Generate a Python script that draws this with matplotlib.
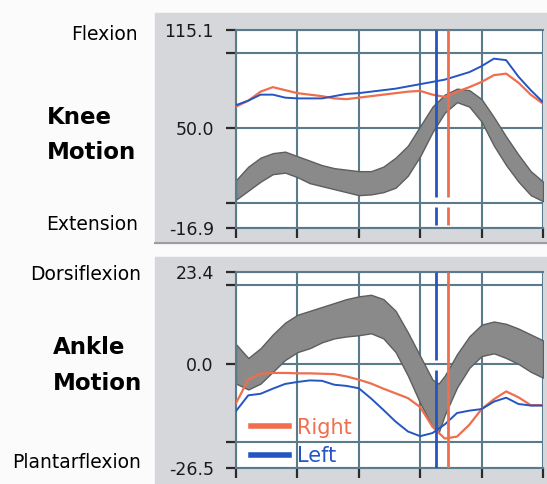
import matplotlib
matplotlib.use("Agg")
import matplotlib.pyplot as plt
from matplotlib.patches import Rectangle
from matplotlib.lines import Line2D

plt.rcParams['axes.unicode_minus'] = False

# knee motion, degrees over % gait cycle
knee_pct = [0, 4, 8, 12, 16, 20, 24, 28, 32, 36, 40, 44, 48, 52, 56, 60, 64, 68, 72, 76, 80, 84, 88, 92, 96, 100]
knee_norm_hi = [15, 24, 30, 33, 34, 31, 28, 25, 23, 22, 21, 21, 24, 30, 38, 51, 64, 72, 76, 75, 69, 57, 44, 32, 21, 14]
knee_norm_lo = [2, 8, 14, 19, 20, 17, 13, 11, 9, 7, 5, 5.5, 7, 10, 18, 31, 47, 60, 67, 64, 54, 38, 25, 14, 5, 1]
knee_right = [64, 68, 74, 77, 75, 73, 72, 71, 69.5, 69, 70, 71, 72, 73, 74, 74.5, 72, 70.5, 74, 77, 80.5, 85, 86, 80, 72, 66]
knee_left = [65, 68, 72, 72, 70, 69.5, 69.5, 69.5, 71, 72.5, 73, 74, 75, 76, 77.5, 79, 80.5, 82, 84.5, 87, 91, 96, 95, 84, 75, 67]

# ankle motion
ankle_norm_pct = [0, 4, 8, 12, 16, 20, 24, 28, 32, 36, 40, 44, 48, 52, 56, 60, 64, 66, 68, 72, 76, 80, 84, 88, 92, 96, 100]
ankle_norm_hi = [5, 1.5, 4, 7.5, 10.5, 12.5, 13.5, 14.5, 15.5, 16.5, 17.2, 17.6, 16.5, 13.5, 8, 2, -4, -5, -3, 2.5, 7, 10, 10.8, 10.2, 9, 7.5, 6]
ankle_norm_lo = [-5, -6.5, -5, -2, 1, 3, 4, 5.5, 6.5, 7, 7.3, 7.8, 6.5, 3, -3, -10, -16, -17.5, -13, -6, -1, 2, 2.7, 1.5, 0, -2, -3.5]
ankle_pct = [0, 4, 8, 12, 16, 20, 24, 28, 32, 36, 40, 44, 48, 52, 56, 60, 64, 68, 72, 76, 80, 84, 88, 92, 96, 100]
ankle_right = [-10, -4, -2.5, -2.3, -2.3, -2.4, -2.4, -2.5, -2.6, -3.2, -4, -5, -6.3, -7.5, -8.7, -11, -16, -19, -18.5, -15.5, -11.5, -9, -7, -8.5, -10.5, -10.5]
ankle_left = [-12, -8, -7.6, -6.3, -5.1, -4.6, -4.2, -4.3, -5.3, -5.6, -6.2, -8.8, -11.7, -14.7, -17.2, -18.4, -17.6, -15.4, -12.5, -11.9, -11.5, -9.6, -8.6, -10.2, -10.6, -10.6]

# toe-off events (% gait cycle)
toe_off_left = 65.2
toe_off_right = 68.9

knee_ticks = [-16.9, 0, 50, 100, 115.1]
knee_ticklabels = ['-16.9', '', '50.0', '', '115.1']
ankle_ticks = [-26.5, -20, 0, 20, 23.4]
ankle_ticklabels = ['-26.5', '', '0.0', '', '23.4']

red = '#ef6e4e'
blue = '#2455c2'
gridc = '#5a7b8b'
panel = '#d5d7da'

W, H = 547, 484
fig = plt.figure(figsize=(W / 100, H / 100), dpi=100)
fig.patch.set_facecolor('#fbfbfb')


def box(l, t, r, b):
    return [l / W, 1 - b / H, (r - l) / W, (b - t) / H]


# grey panels behind the two plots
fig.add_artist(Rectangle((155 / W, 1 - 243 / H), (W - 155) / W, 230 / H,
                         transform=fig.transFigure, color=panel, zorder=0))
fig.add_artist(Rectangle((155 / W, 0), (W - 155) / W, 1 - 257 / H,
                         transform=fig.transFigure, color=panel, zorder=0))
fig.add_artist(Line2D([155 / W, 1], [1 - 243 / H, 1 - 243 / H],
                      transform=fig.transFigure, color='#9a9ea3', lw=1.5))


def style(ax, ticks, labels):
    ax.set_xlim(0, 100)
    ax.set_ylim(ticks[0], ticks[-1])
    ax.set_facecolor('white')
    ax.set_xticks(range(0, 101, 20))
    ax.set_xticklabels([])
    ax.set_yticks(ticks)
    ax.set_yticklabels(labels, fontsize=12.5, color='#1a1a1a')
    ax.grid(True, color=gridc, lw=1.5)
    ax.set_axisbelow(True)
    for s in ax.spines.values():
        s.set_color(gridc)
        s.set_linewidth(1.5)
    ax.spines['right'].set_visible(False)
    ax.tick_params(direction='out', length=7, width=1.6, color='#2a2a2a', pad=9)


ax1 = fig.add_axes(box(236, 30, 543, 228))
style(ax1, knee_ticks, knee_ticklabels)
ax1.fill_between(knee_pct, knee_norm_lo, knee_norm_hi, facecolor='#8a8a8a',
                 edgecolor='#5e5e5e', lw=1, zorder=2)
ax1.plot(knee_pct, knee_right, color=red, lw=1.6, zorder=3)
ax1.plot(knee_pct, knee_left, color=blue, lw=1.4, zorder=3)
ax1.vlines([toe_off_left] * 2, [3.8, -14.9], [115.1, -2.9], color=blue, lw=2, zorder=4)
ax1.vlines([toe_off_right] * 2, [3.8, -14.9], [115.1, -2.9], color=red, lw=2, zorder=4)

ax2 = fig.add_axes(box(236, 272, 543, 468))
style(ax2, ankle_ticks, ankle_ticklabels)
ax2.fill_between(ankle_norm_pct, ankle_norm_lo, ankle_norm_hi, facecolor='#8a8a8a',
                 edgecolor='#5e5e5e', lw=1, zorder=2)
ax2.plot(ankle_pct, ankle_right, color=red, lw=1.6, zorder=3)
ax2.plot(ankle_pct, ankle_left, color=blue, lw=1.4, zorder=3)
ax2.vlines([toe_off_left] * 2, [1.0, -26.5], [23.4, -1.5], color=blue, lw=2, zorder=4)
ax2.vlines(toe_off_right, -26.5, 23.4, color=red, lw=2, zorder=4)

handles = [Line2D([], [], color=red, lw=4), Line2D([], [], color=blue, lw=4)]
ax2.legend(handles, ['Right', 'Left'], loc='lower left', bbox_to_anchor=(0.05, 0.01),
           frameon=False, fontsize=15, labelcolor=[red, blue], handlelength=1.8,
           handletextpad=0.4, labelspacing=0.4, borderpad=0, borderaxespad=0)

# side labels
fig.text(138 / W, 1 - 35 / H, 'Flexion', ha='right', va='center', fontsize=13.5)
fig.text(138 / W, 1 - 224 / H, 'Extension', ha='right', va='center', fontsize=13.5)
fig.text(47 / W, 1 - 117 / H, 'Knee', ha='left', va='center', fontsize=16.5, fontweight='bold')
fig.text(47 / W, 1 - 152 / H, 'Motion', ha='left', va='center', fontsize=16.5, fontweight='bold')
fig.text(141 / W, 1 - 275 / H, 'Dorsiflexion', ha='right', va='center', fontsize=13.5)
fig.text(141 / W, 1 - 462 / H, 'Plantarflexion', ha='right', va='center', fontsize=13.5)
fig.text(53 / W, 1 - 348 / H, 'Ankle', ha='left', va='center', fontsize=16.5, fontweight='bold')
fig.text(53 / W, 1 - 383 / H, 'Motion', ha='left', va='center', fontsize=16.5, fontweight='bold')

fig.savefig('out.png', dpi=100, facecolor=fig.get_facecolor())
